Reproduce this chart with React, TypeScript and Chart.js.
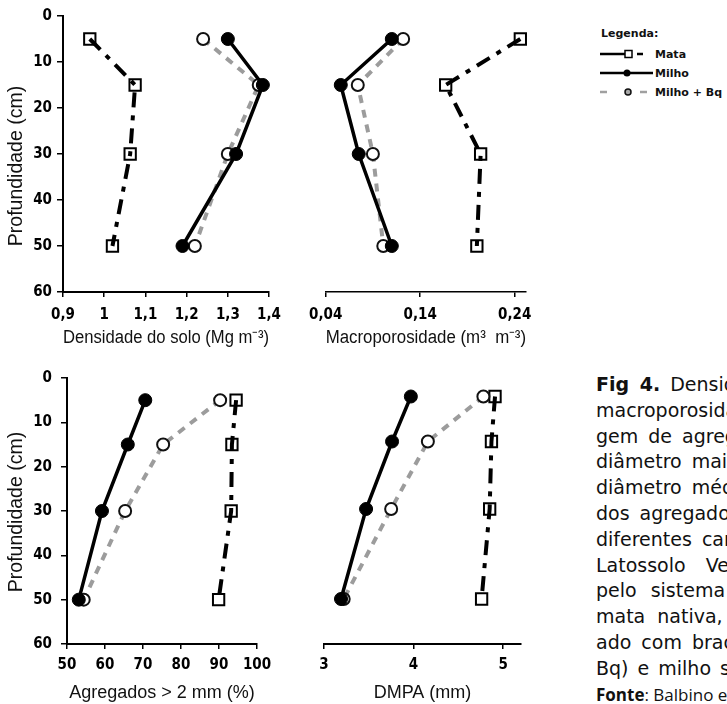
import React, { useEffect, useRef } from "react";
import { Chart, registerables } from "chart.js";
Chart.register(...registerables);

// ---------- DATA ----------
const depths = [5, 15, 30, 50];
const depthTicks = [0, 10, 20, 30, 40, 50, 60];

const densMata = [0.965, 1.075, 1.063, 1.02];
const densMilho = [1.3, 1.385, 1.32, 1.19];
const densBq = [1.24, 1.375, 1.3, 1.22];
const densTicks = [0.9, 1, 1.1, 1.2, 1.3, 1.4];

const macroMata = [0.246, 0.167, 0.204, 0.2];
const macroMilho = [0.11, 0.056, 0.075, 0.11];
const macroBq = [0.122, 0.074, 0.09, 0.101];
const macroTicks = [0.04, 0.14, 0.24];

const agrMata = [94.5, 93.4, 93.2, 89.9];
const agrMilho = [70.6, 66, 59.2, 53.1];
const agrBq = [90.3, 75.3, 65.3, 54.4];
const agrTicks = [50, 60, 70, 80, 90, 100];

const dmpaMata = [4.91, 4.87, 4.85, 4.76];
const dmpaMilho = [3.97, 3.76, 3.47, 3.19];
const dmpaBq = [4.78, 4.16, 3.75, 3.22];
const dmpaTicks = [3, 4, 5];

const seriesNames = ["Mata", "Milho", "Milho + Bq"];
const yTitle = "Profundidade (cm)";
const legendTitle = "Legenda:";

const captionLines = [
  ["Fig 4.", " Densidade do solo,"],
  ["", "macroporosidade, porcenta-"],
  ["", "gem de agregados com"],
  ["", "diâmetro maior que 2 mm e"],
  ["", "diâmetro médio ponderado"],
  ["", "dos agregados (DMPA) em"],
  ["", "diferentes camadas de um"],
  ["", "Latossolo Vermelho sob"],
  ["", "pelo sistema plantio direto:"],
  ["", "mata nativa, milho consorci-"],
  ["", "ado com braquiária (Milho +"],
  ["", "Bq) e milho solteiro."],
];
const sourceLabel = "Fonte";
const sourceText = ": Balbino et al. (2004)";

// ---------- STYLE ----------
const FONT_TICK = "'DejaVu Sans Condensed', 'Liberation Sans Narrow', 'Arial Narrow', sans-serif";
const FONT_LABEL = "'Liberation Sans', Arial, Helvetica, sans-serif";
// justification spacing of each caption line (layout only)
const captionWordSpacing = [4, 0, 4, 4, 4, 4, 4, 14, 8, 6, 4, 3];

const fmt = (v: number) => String(Math.round(v * 1000) / 1000).replace(".", ",");

function toPts(xs: number[]) {
  return xs.map((x, i) => ({ x, y: depths[i] }));
}

function datasets(mata: number[], milho: number[], bq: number[]) {
  return [
    {
      label: seriesNames[1],
      data: toPts(milho),
      showLine: true,
      borderColor: "#000",
      borderWidth: 3.5,
      pointStyle: "circle",
      pointRadius: 6.5,
      pointBackgroundColor: "#000",
      pointBorderColor: "#000",
      pointBorderWidth: 1,
      order: 0,
      clip: false,
    },
    {
      label: seriesNames[2],
      data: toPts(bq),
      showLine: true,
      borderColor: "#9c9c9c",
      borderWidth: 4,
      borderDash: [8, 7],
      pointStyle: "circle",
      pointRadius: 6,
      pointBackgroundColor: "#fff",
      pointBorderColor: "#111",
      pointBorderWidth: 2,
      order: 1,
      clip: false,
    },
    {
      label: seriesNames[0],
      data: toPts(mata),
      showLine: true,
      borderColor: "#000",
      borderWidth: 4,
      borderDash: [15, 8, 5, 8],
      pointStyle: "rect",
      pointRadius: 8,
      pointBackgroundColor: "rgba(255,255,255,0)",
      pointBorderColor: "#000",
      pointBorderWidth: 2,
      order: 2,
      clip: false,
    },
  ];
}

type Spec = {
  left: number; top: number; w: number; h: number;
  pad: { left: number; right: number; top: number; bottom: number };
  showY: boolean; yWidth: number; yPad: number; xHeight: number; xPad: number;
  xMin: number; xMax: number; xTicks: number[]; xTitle: string;
  axisW: number; titleBottom: number;
  mata: number[]; milho: number[]; bq: number[];
};

function Panel({ s }: { s: Spec }) {
  const ref = useRef<HTMLCanvasElement>(null);
  useEffect(() => {
    const chart = new Chart(ref.current as HTMLCanvasElement, {
      type: "scatter",
      data: { datasets: datasets(s.mata, s.milho, s.bq) as any },
      options: {
        animation: false,
        responsive: false,
        events: [],
        layout: { padding: s.pad },
        plugins: { legend: { display: false }, tooltip: { enabled: false } },
        scales: {
          x: {
            type: "linear",
            position: "bottom",
            min: s.xMin,
            max: s.xMax,
            afterBuildTicks: (sc: any) => { sc.ticks = s.xTicks.map((v) => ({ value: v })); },
            afterFit: (sc: any) => { sc.height = s.xHeight; },
            grid: { display: true, drawOnChartArea: false, drawTicks: true, tickLength: 5, color: "#000", lineWidth: 1.5 },
            border: { display: true, color: "#000", width: s.axisW },
            ticks: {
              color: "#000",
              padding: s.xPad,
              autoSkip: false,
              maxRotation: 0,
              font: { family: FONT_TICK, size: 15, weight: "bold" },
              callback: (v: any) => fmt(Number(v)),
            },
            title: {
              display: true,
              text: s.xTitle,
              color: "#111",
              font: { family: FONT_LABEL, size: 18 },
              padding: { top: 0, bottom: s.titleBottom },
            },
          },
          y: {
            type: "linear",
            display: s.showY,
            reverse: true,
            min: 0,
            max: 60,
            afterBuildTicks: (sc: any) => { sc.ticks = depthTicks.map((v) => ({ value: v })); },
            afterFit: (sc: any) => { sc.width = s.yWidth; },
            grid: { display: true, drawOnChartArea: false, drawTicks: true, tickLength: 6, color: "#000", lineWidth: 1.5 },
            border: { display: true, color: "#000", width: s.axisW },
            ticks: {
              color: "#000",
              padding: s.yPad,
              autoSkip: false,
              font: { family: FONT_TICK, size: 15, weight: "bold" },
              callback: (v: any) => String(v),
            },
            title: { display: false },
          },
        },
      } as any,
    });
    return () => chart.destroy();
  }, []);
  return (
    <canvas
      ref={ref}
      width={s.w}
      height={s.h}
      style={{ position: "absolute", left: s.left, top: s.top, width: s.w, height: s.h }}
    />
  );
}

const panels: Spec[] = [
  {
    left: 0, top: 0, w: 290, h: 350,
    pad: { left: 0, right: 13, top: 16, bottom: 0 },
    showY: true, yWidth: 63, yPad: 5, xHeight: 58, xPad: 9,
    xMin: 0.9, xMax: 1.4, xTicks: densTicks, xTitle: "Densidade do solo (Mg m⁻³)",
    axisW: 2, titleBottom: 1,
    mata: densMata, milho: densMilho, bq: densBq,
  },
  {
    left: 300, top: 0, w: 250, h: 350,
    pad: { left: 17, right: 24, top: 16, bottom: 0 },
    showY: false, yWidth: 0, yPad: 5, xHeight: 58, xPad: 9,
    xMin: 0.04, xMax: 0.252, xTicks: macroTicks, xTitle: "Macroporosidade (m³  m⁻³)",
    axisW: 1.5, titleBottom: 1,
    mata: macroMata, milho: macroMilho, bq: macroBq,
  },
  {
    left: 0, top: 360, w: 280, h: 344,
    pad: { left: 0, right: 23, top: 14, bottom: 0 },
    showY: true, yWidth: 67, yPad: 9, xHeight: 60, xPad: 7,
    xMin: 50, xMax: 100, xTicks: agrTicks, xTitle: "Agregados > 2 mm (%)",
    axisW: 2, titleBottom: 0,
    mata: agrMata, milho: agrMilho, bq: agrBq,
  },
  {
    left: 300, top: 360, w: 240, h: 344,
    pad: { left: 24, right: 19, top: 14, bottom: 0 },
    showY: false, yWidth: 0, yPad: 5, xHeight: 60, xPad: 7,
    xMin: 3, xMax: 5.2, xTicks: dmpaTicks, xTitle: "DMPA (mm)",
    axisW: 2, titleBottom: 0,
    mata: dmpaMata, milho: dmpaMilho, bq: dmpaBq,
  },
];

function YTitle({ cx, cy }: { cx: number; cy: number }) {
  return (
    <div
      style={{
        position: "absolute",
        left: cx - 100,
        top: cy - 12,
        width: 200,
        height: 24,
        lineHeight: "24px",
        textAlign: "center",
        transform: "rotate(-90deg)",
        fontFamily: FONT_LABEL,
        fontSize: 19.5,
        color: "#111",
        whiteSpace: "nowrap",
      }}
    >
      {yTitle}
    </div>
  );
}

function Legend() {
  const tf = { fontFamily: "'DejaVu Sans', sans-serif", fontSize: 11, fontWeight: 700 as any, fill: "#111" };
  return (
    <svg
      width={140}
      height={90}
      style={{ position: "absolute", left: 590, top: 20, overflow: "visible" }}
      viewBox="590 20 140 90"
    >
      <text x={601} y={37} style={tf}>{legendTitle}</text>
      {/* Mata */}
      <line x1={600} y1={54} x2={625} y2={54} stroke="#000" strokeWidth={2.5} />
      <rect x={625} y={50.5} width={7} height={7} fill="none" stroke="#000" strokeWidth={1.5} />
      <line x1={637} y1={54} x2={643} y2={54} stroke="#000" strokeWidth={2.5} />
      <text x={655} y={58} style={tf}>{seriesNames[0]}</text>
      {/* Milho */}
      <line x1={600} y1={73} x2={653} y2={73} stroke="#000" strokeWidth={2.5} />
      <circle cx={627} cy={73} r={3.5} fill="#000" />
      <text x={655} y={77} style={tf}>{seriesNames[1]}</text>
      {/* Milho + Bq */}
      <line x1={600} y1={92} x2={607} y2={92} stroke="#a0a0a0" strokeWidth={2.5} />
      <circle cx={628} cy={92} r={3} fill="#a8a8a8" stroke="#111" strokeWidth={1.5} />
      <line x1={640} y1={92} x2={647} y2={92} stroke="#a0a0a0" strokeWidth={2.5} />
      <text x={655} y={96} style={tf}>{seriesNames[2]}</text>
    </svg>
  );
}

function Caption() {
  return (
    <div
      style={{
        position: "absolute",
        left: 596,
        top: 372,
        width: 340,
        fontFamily: "'DejaVu Sans', Verdana, sans-serif",
        fontSize: 19,
        lineHeight: "25.8px",
        color: "#111",
        whiteSpace: "nowrap",
      }}
    >
      {captionLines.map(([b, t], i) => (
        <div key={i} style={{ wordSpacing: captionWordSpacing[i] }}>
          {b ? <b>{b}</b> : null}
          {t}
        </div>
      ))}
      <div style={{ fontFamily: "'Open Sans', sans-serif", fontSize: 17 }}>
        <b>{sourceLabel}</b>
        {sourceText}
      </div>
    </div>
  );
}

export default function App() {
  return (
    <div
      style={{
        position: "absolute",
        left: 0,
        top: 0,
        width: 727,
        height: 704,
        overflow: "hidden",
        background: "#fff",
      }}
    >
      {panels.map((s, i) => (
        <Panel key={i} s={s} />
      ))}
      <YTitle cx={15} cy={166} />
      <YTitle cx={15} cy={512} />
      <Legend />
      <Caption />
    </div>
  );
}
